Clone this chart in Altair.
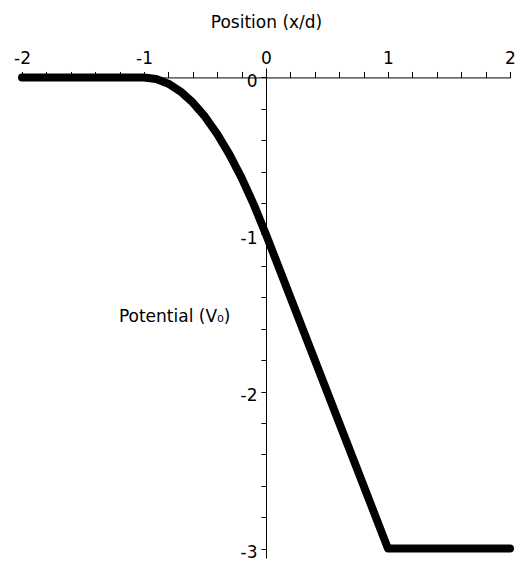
import altair as alt
import pandas as pd

# Potential curve
pos = [-2.0, -1.5, -1.0, -0.9, -0.8, -0.7, -0.6, -0.5, -0.4, -0.3, -0.2, -0.1, 0.0,
       0.25, 0.5, 0.75, 1.0, 1.5, 2.0]
pot = [0.0, 0.0, 0.0, -0.01, -0.04, -0.09, -0.16, -0.25, -0.36, -0.49, -0.64, -0.81, -1.0,
       -1.5, -2.0, -2.5, -3.0, -3.0, -3.0]

x_ticks = [-2, -1.8, -1.6, -1.4, -1.2, -1, -0.8, -0.6, -0.4, -0.2, 0,
           0.2, 0.4, 0.6, 0.8, 1, 1.2, 1.4, 1.6, 1.8, 2]
y_ticks = [0, -0.2, -0.4, -0.6, -0.8, -1, -1.2, -1.4, -1.6, -1.8, -2,
           -2.2, -2.4, -2.6, -2.8, -3]

df = pd.DataFrame({"x": pos, "V": pot})

W, H = 488, 490
ydom = [-3.06, 0.06]
x0_off = -(ydom[1] / (ydom[1] - ydom[0]) * H)   # x-axis sits at V = 0
y0_off = -(W / 2)                               # y-axis sits at x = 0

label_expr = "abs(datum.value - round(datum.value)) < 0.001 ? '' + round(datum.value) : ''"
FONT = "DejaVu Sans"
FS = 17

chart = alt.Chart(df).mark_line(
    color="black", strokeWidth=8, strokeCap="round", strokeJoin="round"
).encode(
    x=alt.X("x:Q", scale=alt.Scale(domain=[-2, 2], nice=False, zero=False),
            axis=alt.Axis(orient="top", offset=x0_off, values=x_ticks, labelExpr=label_expr,
                          grid=False, tickSize=6, labelPadding=4, domainColor="black",
                          tickColor="black", labelColor="black", labelFont=FONT, labelFontSize=FS,
                          title="Position (x/d)", titleFont=FONT, titleFontSize=FS,
                          titleFontWeight="normal", titleColor="black",
                          titleX=W / 2, titleY=-50, titleAlign="center",
                          titleBaseline="alphabetic", labelFlush=False)),
    y=alt.Y("V:Q", scale=alt.Scale(domain=ydom, nice=False, zero=False),
            axis=alt.Axis(orient="left", offset=y0_off, values=y_ticks, labelExpr=label_expr,
                          grid=False, tickSize=5, labelPadding=4, labelOffset=4,
                          domainColor="black", tickColor="black", labelColor="black",
                          labelFont=FONT, labelFontSize=FS,
                          title="Potential (V\u2080)", titleFont=FONT, titleFontSize=FS,
                          titleFontWeight="normal", titleColor="black", titleAngle=0,
                          titleX=-36, titleY=248, titleAlign="right",
                          titleBaseline="middle")),
).properties(
    width=W, height=H,
    autosize=alt.AutoSizeParams(type="none"),
    padding={"left": 14, "top": 60, "right": 7, "bottom": 6},
).configure_view(stroke=None)

chart.save("out.html", embed_options={"renderer": "svg", "actions": False})
